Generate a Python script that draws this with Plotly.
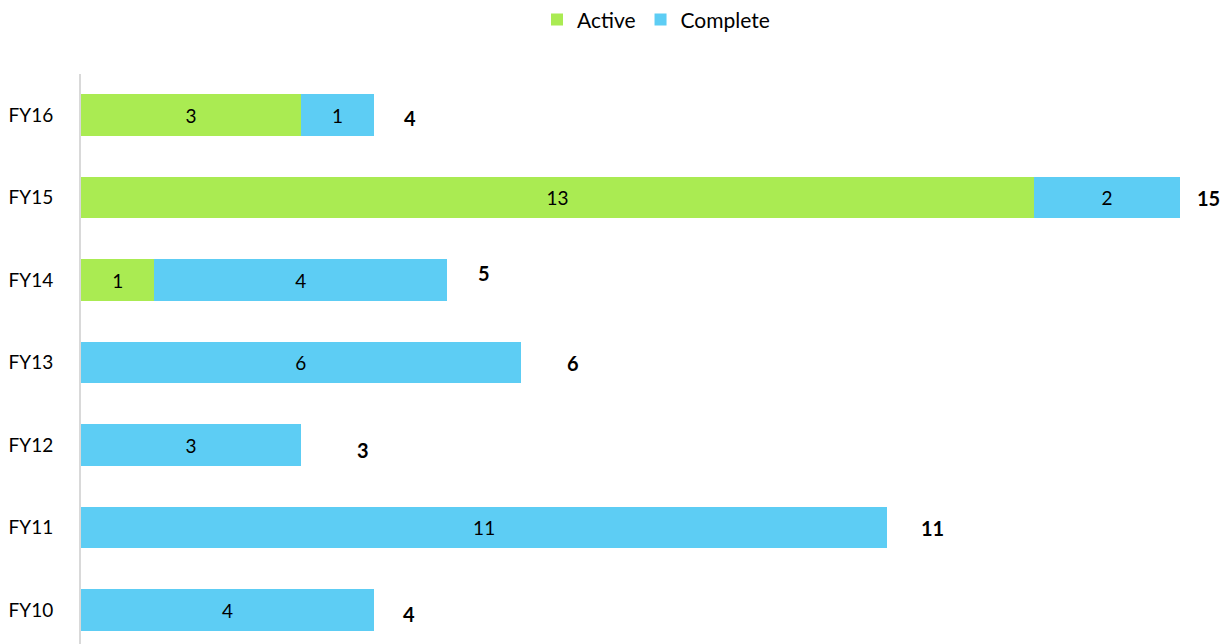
import plotly.graph_objects as go

categories = ["FY10", "FY11", "FY12", "FY13", "FY14", "FY15", "FY16"]
active = [0, 0, 0, 0, 1, 13, 3]
complete = [4, 11, 3, 6, 4, 2, 1]
totals = [a + c for a, c in zip(active, complete)]

# style: per-label offsets of the total labels (pixels)
label_xshift = [35, 45, 62, 52, 37, 28, 36]
label_yshift = [-4, 0, -5, 0, 7, 0, -3]

GREEN = "#AAEB52"
BLUE = "#5DCDF4"
FONT = "Lato"

fig = go.Figure()
fig.add_trace(go.Bar(
    y=categories, x=active, name="Active", orientation="h",
    marker=dict(color=GREEN, line=dict(width=0)),
    text=[str(v) if v else "" for v in active], textposition="inside",
    insidetextanchor="middle", textfont=dict(color="black", size=19, family=FONT),
))
fig.add_trace(go.Bar(
    y=categories, x=complete, name="Complete", orientation="h",
    marker=dict(color=BLUE, line=dict(width=0)),
    text=[str(v) if v else "" for v in complete], textposition="inside",
    insidetextanchor="middle", textfont=dict(color="black", size=19, family=FONT),
))

for cat, tot, xs, ys in zip(categories, totals, label_xshift, label_yshift):
    fig.add_annotation(x=tot, y=cat, text=f"<b>{tot}</b>", showarrow=False,
                       xshift=xs, yshift=ys, xanchor="center",
                       font=dict(size=20, color="black", family=FONT))

fig.update_layout(
    width=1223, height=636,
    margin=dict(l=73, r=0, t=66, b=0, autoexpand=False),
    barmode="stack", bargap=0.5,
    plot_bgcolor="white", paper_bgcolor="white",
    font=dict(family=FONT, size=19, color="black"),
    showlegend=True,
    legend=dict(orientation="h", x=0.5, xanchor="center", y=1.095, yanchor="middle",
                font=dict(size=21, family=FONT), traceorder="normal",
                itemwidth=30),
    xaxis=dict(range=[0, 15.69], showgrid=False, showticklabels=False,
               zeroline=False, showline=False, automargin=False),
    yaxis=dict(range=[-0.412, 6.497], showgrid=False, showline=True,
               linecolor="#D9D9D9", linewidth=2, ticks="", ticklabelstandoff=22,
               tickfont=dict(size=19, family=FONT), automargin=False),
)

fig.write_html("out.html")
